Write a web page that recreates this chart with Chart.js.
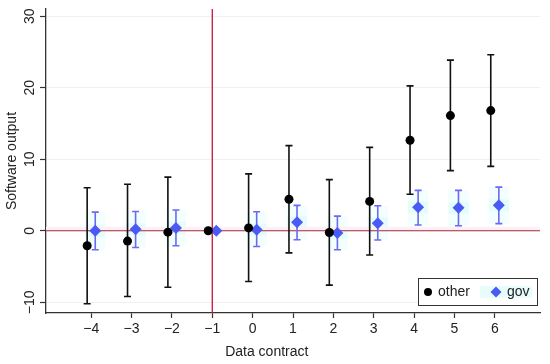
<!DOCTYPE html>
<html>
<head>
<meta charset="utf-8">
<script src="https://cdn.jsdelivr.net/npm/chart.js@4"></script>
<style>
  html, body { margin: 0; padding: 0; background: #fff; }
  #wrap { width: 550px; height: 364px; }
</style>
</head>
<body>
<div id="wrap"><canvas id="myChart" width="550" height="364"></canvas></div>
<script>
// Event-study estimates
const contracts = [-4, -3, -2, -1, 0, 1, 2, 3, 4, 5, 6];
const otherEst = [-2.1, -1.45, -0.2, 0, 0.4, 4.4, -0.25, 4.1, 12.65, 16.1, 16.8];
const otherLo  = [-10.2, -9.2, -7.9, null, -7.1, -3.1, -7.6, -3.4, 5.1, 8.4, 9.0];
const otherHi  = [6.0, 6.5, 7.5, null, 7.95, 11.9, 7.15, 11.65, 20.25, 23.85, 24.6];
const govEst = [0, 0.2, 0.4, 0, 0.15, 1.2, -0.3, 1.05, 3.27, 3.2, 3.55];
const govLo  = [-2.65, -2.35, -2.1, null, -2.2, -1.25, -2.65, -1.3, 0.8, 0.7, 1.0];
const govHi  = [2.6, 2.7, 2.9, null, 2.65, 3.55, 2.05, 3.5, 5.65, 5.65, 6.1];
const yTicks = [-10, 0, 10, 20, 30];
const eventLine = -1;
const shift = 0.1;

const FONT = '"Liberation Sans", Arial, sans-serif';
const fmt = v => String(v).replace('-', '\u2212');

const otherPts = contracts.map((c, i) => ({x: c - shift, y: otherEst[i]}));
const govPts = contracts.map((c, i) => ({x: c + shift, y: govEst[i]}));

// red reference lines + error bars, under the markers
const backdrop = {
    id: 'backdrop',
    beforeDatasetsDraw(chart) {
        const ctx = chart.ctx;
        const xs = chart.scales.x, ys = chart.scales.y;
        const area = chart.chartArea;
        ctx.save();
        // very faint cyan shading behind the gov bars
        for (let i = 0; i < contracts.length; i++) {
            if (govLo[i] == null) continue;
            const x0 = xs.getPixelForValue(contracts[i] + shift - 0.25);
            const x1 = xs.getPixelForValue(contracts[i] + shift + 0.25);
            const y0 = ys.getPixelForValue(govHi[i]);
            const y1 = ys.getPixelForValue(govLo[i]);
            const ym = ys.getPixelForValue(govEst[i]);
            ctx.fillStyle = '#f3fefe';
            ctx.fillRect(x0, y0, x1 - x0, y1 - y0);
            ctx.fillStyle = '#e6fcfc';
            ctx.fillRect(x0, ym - 6, x1 - x0, 12);
        }
        // faint pink band along zero
        const y0 = ys.getPixelForValue(0);
        ctx.fillStyle = '#fdf0f6';
        ctx.fillRect(area.left, y0 - 4, area.right - area.left, 4);
        // zero line
        ctx.strokeStyle = '#a3283c';
        ctx.lineWidth = 1.2;
        ctx.beginPath();
        ctx.moveTo(area.left, y0);
        ctx.lineTo(area.right, y0);
        ctx.stroke();
        // event line
        const xe = xs.getPixelForValue(eventLine);
        ctx.strokeStyle = '#c8143c';
        ctx.lineWidth = 1.3;
        ctx.beginPath();
        ctx.moveTo(xe, area.top);
        ctx.lineTo(xe, area.bottom);
        ctx.stroke();

        function bars(lo, hi, dx, color) {
            ctx.strokeStyle = color;
            ctx.lineWidth = 1.6;
            for (let i = 0; i < contracts.length; i++) {
                if (lo[i] == null) continue;
                const x = xs.getPixelForValue(contracts[i] + dx);
                const a = ys.getPixelForValue(lo[i]);
                const b = ys.getPixelForValue(hi[i]);
                ctx.beginPath();
                ctx.moveTo(x, a); ctx.lineTo(x, b);
                ctx.moveTo(x - 3.5, a); ctx.lineTo(x + 3.5, a);
                ctx.moveTo(x - 3.5, b); ctx.lineTo(x + 3.5, b);
                ctx.stroke();
            }
        }
        bars(otherLo, otherHi, -shift, '#111111');
        bars(govLo, govHi, shift, '#6a6af2');
        ctx.restore();
    }
};

// rotated y labels, axis titles and the inside legend
const labels = {
    id: 'labels',
    afterDraw(chart) {
        const ctx = chart.ctx;
        const ys = chart.scales.y, xs = chart.scales.x;
        const area = chart.chartArea;
        ctx.save();
        ctx.fillStyle = '#222';
        ctx.font = '14px ' + FONT;
        ctx.textAlign = 'center';
        ctx.textBaseline = 'middle';
        yTicks.forEach(v => {
            ctx.save();
            ctx.translate(30, ys.getPixelForValue(v));
            ctx.rotate(-Math.PI / 2);
            ctx.fillText(fmt(v), 0, 0);
            ctx.restore();
        });
        ctx.save();
        ctx.translate(12.5, (area.top + area.bottom) / 2);
        ctx.rotate(-Math.PI / 2);
        ctx.fillText('Software output', 0, 0);
        ctx.restore();
        ctx.fillText('Data contract', xs.getPixelForValue(0.35), 352);

        // legend
        const w = 119, h = 27;
        const lx = area.right - 3 - w, ly = area.bottom - 8 - h;
        ctx.fillStyle = '#fff';
        ctx.fillRect(lx, ly, w, h);
        ctx.strokeStyle = '#333';
        ctx.lineWidth = 1;
        ctx.strokeRect(lx + 0.5, ly + 0.5, w, h);
        const cy = ly + h / 2 + 0.5;
        ctx.fillStyle = '#000';
        ctx.beginPath();
        ctx.arc(lx + 10, cy, 4, 0, Math.PI * 2);
        ctx.fill();
        ctx.fillStyle = '#e8fcfc';
        ctx.fillRect(lx + 62, cy - 6, 52, 12);
        ctx.fillStyle = '#4a5af5';
        ctx.beginPath();
        ctx.moveTo(lx + 78, cy - 5.5);
        ctx.lineTo(lx + 83.5, cy);
        ctx.lineTo(lx + 78, cy + 5.5);
        ctx.lineTo(lx + 72.5, cy);
        ctx.closePath();
        ctx.fill();
        ctx.fillStyle = '#222';
        ctx.textAlign = 'left';
        ctx.fillText('other', lx + 20, cy);
        ctx.fillText('gov', lx + 89, cy);
        ctx.restore();
    }
};

const ctx = document.getElementById('myChart').getContext('2d');
const myChart = new Chart(ctx, {
    type: 'scatter',
    data: {
        datasets: [{
            label: 'other',
            data: otherPts,
            pointStyle: 'circle',
            pointRadius: 4.5,
            pointHoverRadius: 4.5,
            backgroundColor: '#000',
            borderColor: '#000',
            borderWidth: 0
        }, {
            label: 'gov',
            data: govPts,
            pointStyle: 'rectRot',
            pointRadius: 6,
            pointHoverRadius: 6,
            backgroundColor: '#4a5af5',
            borderColor: '#4a5af5',
            borderWidth: 0
        }]
    },
    options: {
        responsive: false,
        animation: false,
        layout: { padding: { top: 9, right: 10, left: 0, bottom: 0 } },
        plugins: {
            legend: { display: false },
            tooltip: { enabled: false }
        },
        scales: {
            x: {
                type: 'linear',
                min: -5.12,
                max: 7.12,
                afterBuildTicks: s => { s.ticks = contracts.map(v => ({value: v})); },
                afterFit: s => { s.height = 51; },
                border: { color: '#333', width: 1.3 },
                grid: { drawOnChartArea: false, tickLength: 5, tickColor: '#333', tickWidth: 1.2 },
                ticks: {
                    color: '#222',
                    padding: 3,
                    font: { family: FONT, size: 14 },
                    callback: v => fmt(v),
                    maxRotation: 0
                }
            },
            y: {
                min: -11.5,
                max: 31,
                afterBuildTicks: s => { s.ticks = yTicks.map(v => ({value: v})); },
                afterFit: s => { s.width = 46; },
                border: { color: '#333', width: 1.3 },
                grid: { color: '#eaf4f4', lineWidth: 1, tickLength: 6, tickColor: '#333', tickWidth: 1.2 },
                ticks: { display: false }
            }
        }
    },
    plugins: [backdrop, labels]
});
</script>
</body>
</html>
